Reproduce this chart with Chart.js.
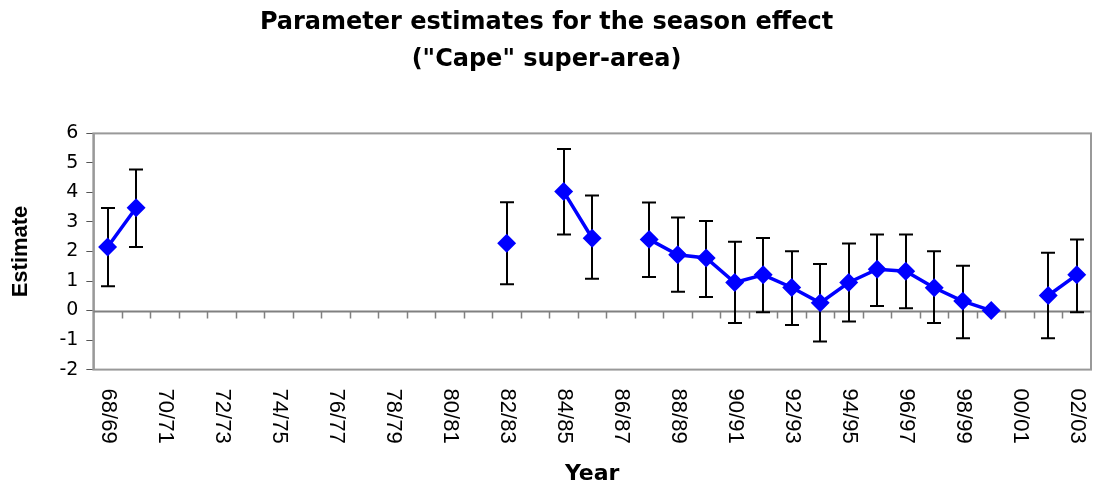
<!DOCTYPE html>
<html>
<head>
<meta charset="utf-8">
<script src="https://cdn.jsdelivr.net/npm/chart.js@4.4.0/dist/chart.umd.min.js"></script>
<style>
  html, body { margin: 0; padding: 0; background: #fff; }
  #wrap { width: 1093px; height: 492px; }
</style>
</head>
<body>
<div id="wrap"><canvas id="grafico" width="1093" height="492"></canvas></div>
<script>
// categorias (temporadas)
var seasons = ['68/69', '69/70', '70/71', '71/72', '72/73', '73/74', '74/75', '75/76', '76/77',
    '77/78', '78/79', '79/80', '80/81', '81/82', '82/83', '83/84', '84/85', '85/86', '86/87',
    '87/88', '88/89', '89/90', '90/91', '91/92', '92/93', '93/94', '94/95', '95/96', '96/97',
    '97/98', '98/99', '99/00', '00/01', '01/02', '02/03'];

// rótulos visíveis no eixo x (um sim, um não)
var tickLabels = ['68/69', '70/71', '72/73', '74/75', '76/77', '78/79', '80/81', '82/83', '84/85',
    '86/87', '88/89', '90/91', '92/93', '94/95', '96/97', '98/99', '00/01', '02/03'];

var estimate = [2.15, 3.48, null, null, null, null, null, null, null, null, null, null, null, null,
    2.28, null, 4.03, 2.45, null, 2.41, 1.89, 1.78, 0.95, 1.21, 0.78, 0.26, 0.95, 1.40, 1.33,
    0.77, 0.32, 0.0, null, 0.51, 1.21];
var upper = [3.47, 4.78, null, null, null, null, null, null, null, null, null, null, null, null,
    3.67, null, 5.47, 3.90, null, 3.66, 3.15, 3.03, 2.33, 2.46, 2.01, 1.58, 2.27, 2.58, 2.58,
    2.01, 1.52, null, null, 1.96, 2.41];
var lower = [0.82, 2.15, null, null, null, null, null, null, null, null, null, null, null, null,
    0.89, null, 2.58, 1.08, null, 1.14, 0.64, 0.46, -0.42, -0.06, -0.49, -1.05, -0.37, 0.15, 0.08,
    -0.42, -0.94, null, null, -0.94, -0.06];

var yTicks = [-2, -1, 0, 1, 2, 3, 4, 5, 6];

// moldura, eixo em zero e barras de erro
var extras = {
    id: 'extras',
    beforeDatasetsDraw: function (chart) {
        var ctx = chart.ctx, a = chart.chartArea;
        var xs = chart.scales.x, ys = chart.scales.y;
        ctx.save();
        ctx.strokeStyle = '#999999';
        ctx.lineWidth = 2;
        ctx.strokeRect(a.left, a.top, a.right - a.left, a.bottom - a.top);

        var y0 = Math.round(ys.getPixelForValue(0)) + 0.5;
        ctx.strokeStyle = '#808080';
        ctx.beginPath();
        ctx.moveTo(a.left, y0);
        ctx.lineTo(a.right, y0);
        ctx.stroke();

        var half = (xs.getPixelForValue(1) - xs.getPixelForValue(0)) / 2;
        ctx.lineWidth = 1.5;
        ctx.beginPath();
        for (var i = 1; i < seasons.length; i++) {
            var tx = Math.round(xs.getPixelForValue(i) - half) + 0.5;
            ctx.moveTo(tx, y0);
            ctx.lineTo(tx, y0 + 7);
        }
        ctx.stroke();

        ctx.strokeStyle = '#000';
        ctx.lineWidth = 2;
        ctx.beginPath();
        for (var j = 0; j < seasons.length; j++) {
            if (upper[j] === null || lower[j] === null) continue;
            var px = Math.round(xs.getPixelForValue(j));
            var yt = ys.getPixelForValue(upper[j]);
            var yb = ys.getPixelForValue(lower[j]);
            ctx.moveTo(px, yt); ctx.lineTo(px, yb);
            ctx.moveTo(px - 7, yt); ctx.lineTo(px + 7, yt);
            ctx.moveTo(px - 7, yb); ctx.lineTo(px + 7, yb);
        }
        ctx.stroke();
        ctx.restore();
    },
    afterDraw: function (chart) {
        var ctx = chart.ctx, a = chart.chartArea, xs = chart.scales.x;
        ctx.save();
        ctx.fillStyle = '#000';
        ctx.font = '22px "Liberation Sans", Arial, sans-serif';
        ctx.textAlign = 'left';
        ctx.textBaseline = 'middle';
        tickLabels.forEach(function (lab) {
            var px = xs.getPixelForValue(seasons.indexOf(lab));
            ctx.save();
            ctx.translate(px, a.bottom + 19);
            ctx.rotate(Math.PI / 2);
            ctx.fillText(lab, 0, 0);
            ctx.restore();
        });
        ctx.restore();
    }
};

var chart = new Chart(document.getElementById('grafico').getContext('2d'), {
    type: 'line',
    data: {
        labels: seasons,
        datasets: [{
            label: 'Estimate',
            data: estimate,
            borderColor: '#0000FF',
            backgroundColor: '#0000FF',
            borderWidth: 3.5,
            pointStyle: 'rectRot',
            pointRadius: 7,
            pointHoverRadius: 7,
            spanGaps: false,
            tension: 0,
            clip: false
        }]
    },
    options: {
        responsive: false,
        animation: false,
        devicePixelRatio: 1,
        layout: { autoPadding: false, padding: { left: 2, right: 2, top: 0, bottom: 0 } },
        plugins: {
            legend: { display: false },
            tooltip: { enabled: false },
            title: {
                display: true,
                text: ['Parameter estimates for the season effect', '("Cape" super-area)'],
                color: '#000',
                font: { family: '"DejaVu Sans", sans-serif', size: 24, weight: 'bold', lineHeight: 1.55 },
                padding: { top: 4, bottom: 55 }
            }
        },
        scales: {
            x: {
                type: 'category',
                offset: true,
                grid: { display: false, drawTicks: false },
                border: { display: false },
                ticks: { display: false },
                title: {
                    display: true,
                    text: 'Year',
                    color: '#000',
                    font: { family: '"DejaVu Sans", sans-serif', size: 22, weight: 'bold' },
                    padding: { top: 91, bottom: 5 }
                }
            },
            y: {
                min: yTicks[0],
                max: yTicks[yTicks.length - 1],
                afterBuildTicks: function (scale) {
                    scale.ticks = yTicks.map(function (v) { return { value: v }; });
                },
                grid: { drawOnChartArea: false, drawTicks: true, tickLength: 7, color: '#555' },
                border: { display: true, color: '#555', width: 1.5 },
                ticks: {
                    color: '#000',
                    padding: 8,
                    font: { family: '"DejaVu Sans", sans-serif', size: 19 }
                },
                title: {
                    display: true,
                    text: 'Estimate',
                    color: '#000',
                    font: { family: '"Liberation Sans", Arial, sans-serif', size: 22, weight: 'bold' },
                    padding: { top: 6, bottom: 17 }
                }
            }
        }
    },
    plugins: [extras]
});
</script>
</body>
</html>
